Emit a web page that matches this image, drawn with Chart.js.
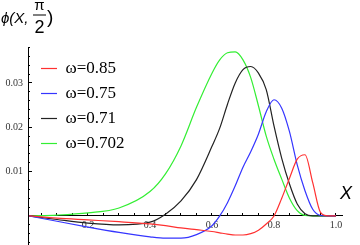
<!DOCTYPE html>
<html>
<head>
<meta charset="utf-8">
<script src="https://cdn.jsdelivr.net/npm/chart.js@4.4.1/dist/chart.umd.min.js"></script>
<style>
  html, body { margin: 0; padding: 0; background: #fff; }
</style>
</head>
<body>
<canvas id="graf" width="360" height="245"></canvas>
<script>
// values
let xVals = [0.01, 0.1, 0.2, 0.3, 0.4, 0.45, 0.5, 0.55, 0.6, 0.625, 0.65, 0.675, 0.7,
             0.725, 0.75, 0.775, 0.8, 0.825, 0.85, 0.875, 0.9, 0.925, 0.95, 0.975, 1.0];
let red085 = [0, -0.0005, -0.0009, -0.0013, -0.0018, -0.0022, -0.0027, -0.0031, -0.0035, -0.0038, -0.0041, -0.0043, -0.0043,
              -0.0040, -0.0032, -0.0018, 0.0000, 0.0040, 0.0085, 0.0128, 0.0138, 0.0075, 0.0008, 0, 0];
let blue075 = [0, -0.0012, -0.0025, -0.0037, -0.0047, -0.0050, -0.0050, -0.0042, -0.0022, 0.0000, 0.0030, 0.0068, 0.0110,
               0.0145, 0.0185, 0.0235, 0.0262, 0.0243, 0.0190, 0.0115, 0.0057, 0.0015, 0.0001, 0, 0];
let black071 = [0, -0.0008, -0.0016, -0.0020, -0.0014, 0.0004, 0.0034, 0.0082, 0.0157, 0.0198, 0.0252, 0.0300, 0.0330,
                0.0337, 0.0322, 0.0285, 0.0203, 0.0130, 0.0072, 0.0027, 0.0005, 0, 0, 0, 0];
let green0702 = [0, 0.0002, 0.0007, 0.0018, 0.0055, 0.0095, 0.0158, 0.0245, 0.0322, 0.0352, 0.0368, 0.0370, 0.0352,
                 0.0312, 0.0248, 0.0180, 0.0128, 0.0083, 0.0040, 0.0012, 0.0001, 0, 0, 0, 0];

let seriesNames = ["ω=0.85", "ω=0.75", "ω=0.71", "ω=0.702"];
let lineColor = ["#ff3030", "#3535ff", "#222222", "#33ee33"];
let xMin = 0.0065, xMax = 1.0194;
let yMin = -0.00655, yMax = 0.0381;

function points(ys) {
    return xVals.map((x, i) => ({ x: x, y: ys[i] }));
}

// axes take no room, the chart area is set by the padding
function flatten(scale) {
    if (scale.isHorizontal()) scale.height = 0;
    else scale.width = 0;
    scale.paddingTop = scale.paddingBottom = scale.paddingLeft = scale.paddingRight = 0;
}
// the labelled y axis keeps the strip left of the plot for its labels
function yStrip(scale) {
    scale.width = 28;
    scale.paddingTop = scale.paddingBottom = scale.paddingLeft = scale.paddingRight = 0;
}

const axisText = {
    id: "axisText",
    afterLayout(chart) {
        const a = chart.chartArea;
        chart.legend.left = a.left + 5;
        chart.legend.top = a.top + 5;
        chart.legend.right = a.right;
        chart.legend.bottom = a.bottom;
    },
    afterDraw(chart) {
        const ctx = chart.ctx;
        ctx.save();
        ctx.fillStyle = "#000";
        ctx.textBaseline = "alphabetic";
        ctx.font = 'italic 15px "Liberation Sans"';
        ctx.textAlign = "left";
        ctx.fillText("ϕ(X,", 1, 23);
        ctx.textAlign = "center";
        ctx.font = '15px "Liberation Sans"';
        ctx.fillText("π", 39.5, 9.5);
        ctx.fillRect(33, 14.5, 13, 1);
        ctx.font = '18px "Liberation Sans"';
        ctx.fillText("2", 39.5, 33);
        ctx.textAlign = "left";
        ctx.font = '19px "Liberation Sans"';
        ctx.fillText(")", 47, 23);
        ctx.font = 'italic 18px "Liberation Sans"';
        ctx.fillText("X", 340, 199);
        ctx.restore();
    }
};

let datasets = [red085, blue075, black071, green0702].map((ys, i) => ({
    label: seriesNames[i],
    data: points(ys),
    borderColor: lineColor[i],
    backgroundColor: lineColor[i],
    borderWidth: 1.2,
    pointRadius: 0,
    fill: false,
    cubicInterpolationMode: "monotone"
}));

const tickFont = { family: "Liberation Serif", size: 10 };

new Chart(document.getElementById("graf"), {
    type: "line",
    data: { datasets: datasets },
    options: {
        responsive: false,
        animation: false,
        events: [],
        layout: { padding: { left: 0, right: 18, top: 47, bottom: 0 } },
        plugins: {
            tooltip: { enabled: false },
            legend: {
                position: "chartArea",
                align: "start",
                labels: {
                    usePointStyle: true,
                    pointStyle: "line",
                    pointStyleWidth: 16,
                    padding: 8,
                    color: "#000",
                    font: { family: "Liberation Serif", size: 17 }
                }
            }
        },
        scales: {
            x: {
                type: "linear",
                min: xMin,
                max: xMax,
                position: { y: 0 },
                afterFit: flatten,
                border: { color: "#000", width: 1 },
                grid: { drawOnChartArea: false, tickLength: -3, tickColor: "#000" },
                ticks: {
                    stepSize: 0.05,
                    includeBounds: false,
                    autoSkip: false,
                    maxRotation: 0,
                    padding: 6,
                    color: "#333",
                    font: tickFont,
                    callback: (v) => (Math.round(v * 100) % 20 === 0 ? v.toFixed(1) : "")
                }
            },
            y: {
                type: "linear",
                min: yMin,
                max: yMax,
                position: "left",
                weight: 1,
                afterFit: yStrip,
                border: { color: "#000", width: 1 },
                grid: { drawOnChartArea: false, tickLength: -4, tickColor: "#000" },
                ticks: {
                    stepSize: 0.01,
                    includeBounds: false,
                    padding: 9,
                    color: "#333",
                    font: tickFont,
                    callback: (v) => (Math.round(v * 1000) > 0 ? v.toFixed(2) : "")
                }
            },
            y2: {
                type: "linear",
                min: yMin,
                max: yMax,
                position: "left",
                weight: 0,
                afterFit: flatten,
                border: { display: false },
                grid: { drawOnChartArea: false, tickLength: -2, tickColor: "#000" },
                ticks: {
                    stepSize: 0.002,
                    includeBounds: false,
                    autoSkip: false,
                    padding: 0,
                    font: tickFont,
                    callback: () => ""
                }
            }
        }
    },
    plugins: [axisText]
});
</script>
</body>
</html>
